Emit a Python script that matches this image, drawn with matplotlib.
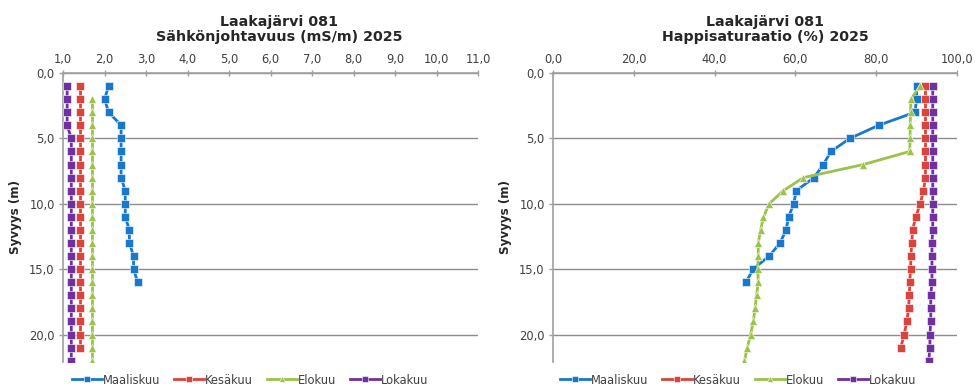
import matplotlib
matplotlib.use("Agg")
import matplotlib.pyplot as plt
from matplotlib.ticker import FixedLocator, FuncFormatter

plt.rcParams['font.family'] = ['DejaVu Sans']

# --- data ---
series_names = ["Maaliskuu", "Kesäkuu", "Elokuu", "Lokakuu"]
series_colors = ["#1a78cc", "#d9443e", "#9bc24a", "#7030a0"]
series_markers = ["s", "s", "^", "s"]

# Sähkönjohtavuus (mS/m)
cond_depth_maalis = [1, 2, 3, 4, 5, 6, 7, 8, 9, 10, 11, 12, 13, 14, 15, 16]
cond_maalis = [2.1, 2.0, 2.1, 2.4, 2.4, 2.4, 2.4, 2.4, 2.5, 2.5, 2.5, 2.6, 2.6, 2.7, 2.7, 2.8]
cond_depth_kesa = [1, 2, 3, 4, 5, 6, 7, 8, 9, 10, 11, 12, 13, 14, 15, 16, 17, 18, 19, 20, 21]
cond_kesa = [1.4, 1.4, 1.4, 1.4, 1.4, 1.4, 1.4, 1.4, 1.4, 1.4, 1.4, 1.4, 1.4, 1.4, 1.4, 1.4, 1.4, 1.4, 1.4, 1.4, 1.4]
cond_depth_elo = [2, 3, 4, 5, 6, 7, 8, 9, 10, 11, 12, 13, 14, 15, 16, 17, 18, 19, 20, 21, 22]
cond_elo = [1.7, 1.7, 1.7, 1.7, 1.7, 1.7, 1.7, 1.7, 1.7, 1.7, 1.7, 1.7, 1.7, 1.7, 1.7, 1.7, 1.7, 1.7, 1.7, 1.7, 1.7]
cond_depth_loka = [1, 2, 3, 4, 5, 6, 7, 8, 9, 10, 11, 12, 13, 14, 15, 16, 17, 18, 19, 20, 21, 22]
cond_loka = [1.1, 1.1, 1.1, 1.1, 1.2, 1.2, 1.2, 1.2, 1.2, 1.2, 1.2, 1.2, 1.2, 1.2, 1.2, 1.2, 1.2, 1.2, 1.2, 1.2, 1.2, 1.2]

# Happisaturaatio (%)
ox_depth_maalis = [1, 2, 3, 4, 5, 6, 7, 8, 9, 10, 11, 12, 13, 14, 15, 16]
ox_maalis = [90.0, 90.0, 89.6, 80.6, 73.5, 68.8, 66.9, 64.6, 60.2, 59.6, 58.3, 57.7, 56.2, 53.5, 49.5, 47.8]
ox_depth_kesa = [1, 2, 3, 4, 5, 6, 7, 8, 9, 10, 11, 12, 13, 14, 15, 16, 17, 18, 19, 20, 21]
ox_kesa = [92.2, 92.2, 92.2, 92.2, 92.2, 92.2, 92.2, 92.2, 91.7, 90.9, 89.8, 89.0, 88.8, 88.6, 88.5, 88.3, 88.2, 88.0, 87.6, 86.9, 86.1]
ox_depth_elo = [1, 2, 3, 4, 5, 6, 7, 8, 9, 10, 11, 12, 13, 14, 15, 16, 17, 18, 19, 20, 21, 22]
ox_elo = [90.8, 88.6, 88.5, 88.4, 88.4, 88.3, 76.8, 62.0, 57.0, 53.5, 52.1, 51.4, 50.8, 50.8, 50.7, 50.8, 50.4, 50.0, 49.6, 48.9, 48.1, 47.4]
ox_depth_loka = [1, 2, 3, 4, 5, 6, 7, 8, 9, 10, 11, 12, 13, 14, 15, 16, 17, 18, 19, 20, 21, 22]
ox_loka = [94.0, 94.0, 94.0, 94.0, 94.0, 94.0, 94.0, 94.0, 94.0, 94.0, 94.0, 94.0, 93.8, 93.8, 93.8, 93.8, 93.5, 93.5, 93.5, 93.3, 93.3, 93.0]

cond_xticks = [1, 2, 3, 4, 5, 6, 7, 8, 9, 10, 11]
ox_xticks = [0, 20, 40, 60, 80, 100]
depth_ticks = [0, 5, 10, 15, 20]

charts = [
    dict(title="Laakajärvi 081\nSähkönjohtavuus (mS/m) 2025", xlim=(1, 11), xticks=cond_xticks,
         series=[(cond_depth_maalis, cond_maalis), (cond_depth_kesa, cond_kesa),
                 (cond_depth_elo, cond_elo), (cond_depth_loka, cond_loka)],
         rect=[63 / 975, 28 / 390, 415 / 975, 289 / 390], title_x=279 / 975,
         ylabel_x=16 / 975, legend_x=250 / 975),
    dict(title="Laakajärvi 081\nHappisaturaatio (%) 2025", xlim=(0, 100), xticks=ox_xticks,
         series=[(ox_depth_maalis, ox_maalis), (ox_depth_kesa, ox_kesa),
                 (ox_depth_elo, ox_elo), (ox_depth_loka, ox_loka)],
         rect=[553 / 975, 28 / 390, 404 / 975, 289 / 390], title_x=765 / 975,
         ylabel_x=505 / 975, legend_x=738 / 975),
]

comma = FuncFormatter(lambda v, pos: f"{v:.1f}".replace(".", ","))
axis_gray = "#a0a0a0"
text_gray = "#404040"

fig = plt.figure(figsize=(9.75, 3.9), dpi=100)

for ch in charts:
    ax = fig.add_axes(ch["rect"])
    for (d, v), name, col, mk in zip(ch["series"], series_names, series_colors, series_markers):
        ax.plot(v, d, color=col, lw=2, marker=mk, ms=6.2 if mk == "s" else 6,
                mec="white", mew=0.4, label=name, zorder=3)
    ax.set_xlim(*ch["xlim"])
    ax.set_ylim(22.1, 0)
    ax.xaxis.tick_top()
    ax.xaxis.set_major_locator(FixedLocator(ch["xticks"]))
    ax.yaxis.set_major_locator(FixedLocator(depth_ticks))
    ax.xaxis.set_major_formatter(comma)
    ax.yaxis.set_major_formatter(comma)
    ax.tick_params(axis="both", labelsize=8.3, labelcolor=text_gray, color=axis_gray,
                   length=3, width=1, pad=3)
    ax.tick_params(axis="x", direction="inout", length=4)
    for side in ["right", "bottom"]:
        ax.spines[side].set_visible(False)
    for side in ["top", "left"]:
        ax.spines[side].set_color(axis_gray)
        ax.spines[side].set_linewidth(1.2)
    ax.grid(axis="y", color="#8c8c8c", lw=1)
    ax.set_axisbelow(True)

    fig.text(ch["title_x"], 1 - 29.5 / 390, ch["title"], ha="center", va="center",
             fontsize=10.3, fontweight="bold", color="#262626", linespacing=1.1)
    fig.text(ch["ylabel_x"], 1 - 217 / 390, "Syvyys (m)", rotation=90, ha="center",
             va="center", fontsize=8.6, fontweight="bold", color="#262626")
    ax.legend(loc="center", bbox_to_anchor=(ch["legend_x"], 10 / 390),
              bbox_transform=fig.transFigure, ncol=4, frameon=False, fontsize=8.3,
              handlelength=2.6, handletextpad=0.1, columnspacing=1.2,
              labelcolor=text_gray, markerscale=0.8)

fig.savefig("out.png", dpi=100)
